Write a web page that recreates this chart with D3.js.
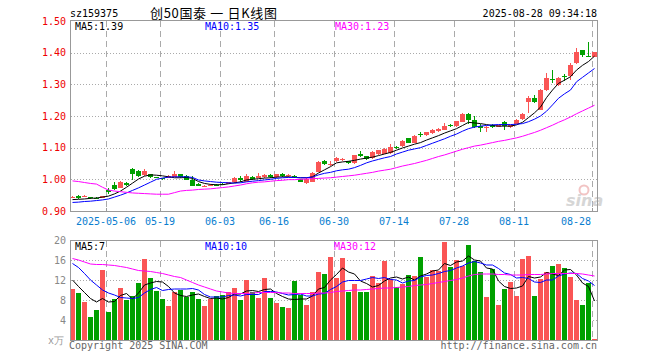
<!DOCTYPE html>
<html><head><meta charset="utf-8">
<script src="https://cdn.jsdelivr.net/npm/d3@7"></script>
<style>
html,body{margin:0;padding:0;background:#fff;}
svg text{font-family:"DejaVu Sans Mono",monospace;}
</style></head>
<body><svg id="c" width="660" height="360"></svg>
<script>
const dates = ["04-23","04-24","04-25","04-28","04-29","04-30","05-06","05-07","05-08","05-09","05-12","05-13","05-14","05-15","05-16","05-19","05-20","05-21","05-22","05-23","05-26","05-27","05-28","05-29","05-30","06-03","06-04","06-05","06-06","06-09","06-10","06-11","06-12","06-13","06-16","06-17","06-18","06-19","06-20","06-23","06-24","06-25","06-26","06-27","06-30","07-01","07-02","07-03","07-04","07-07","07-08","07-09","07-10","07-11","07-14","07-15","07-16","07-17","07-18","07-21","07-22","07-23","07-24","07-25","07-28","07-29","07-30","07-31","08-01","08-04","08-05","08-06","08-07","08-08","08-11","08-12","08-13","08-14","08-15","08-18","08-19","08-20","08-21","08-22","08-25","08-26","08-27","08-28"];
const open  = [0.943,0.946,0.946,0.943,0.941,0.941,0.966,0.982,0.973,0.990,1.034,1.025,1.014,1.016,1.006,1.004,1.004,1.007,1.016,1.009,0.997,0.985,0.979,0.981,0.983,0.986,0.985,0.991,1.005,0.993,1.008,1.005,1.006,1.014,1.006,1.017,1.009,1.011,1.000,0.988,0.993,1.024,1.058,1.049,1.057,1.062,1.057,1.052,1.080,1.073,1.067,1.079,1.081,1.082,1.101,1.105,1.129,1.116,1.143,1.140,1.146,1.153,1.157,1.171,1.167,1.181,1.206,1.188,1.170,1.165,1.171,1.166,1.181,1.166,1.176,1.190,1.243,1.258,1.220,1.282,1.317,1.297,1.326,1.325,1.366,1.407,1.391,1.386];
const close = [0.945,0.941,0.947,0.941,0.939,0.946,0.959,0.970,0.993,0.982,1.017,1.011,1.026,1.007,1.005,1.000,1.011,1.017,1.006,0.999,0.980,0.980,0.980,0.982,0.981,0.984,0.991,1.005,0.999,1.011,1.001,1.011,1.015,1.007,1.016,1.009,1.015,1.005,0.993,1.002,1.020,1.055,1.048,1.050,1.068,1.063,1.051,1.077,1.074,1.064,1.086,1.093,1.096,1.103,1.100,1.121,1.116,1.137,1.141,1.148,1.157,1.160,1.170,1.169,1.183,1.206,1.186,1.165,1.162,1.166,1.166,1.171,1.168,1.171,1.188,1.207,1.258,1.245,1.282,1.320,1.315,1.320,1.324,1.362,1.401,1.393,1.389,1.401];
const high  = [0.948,0.951,0.950,0.945,0.943,0.947,0.972,0.991,0.995,0.991,1.035,1.029,1.034,1.018,1.008,1.005,1.014,1.026,1.017,1.015,1.011,0.987,0.982,0.984,0.985,0.988,0.993,1.007,1.011,1.016,1.011,1.020,1.017,1.016,1.018,1.019,1.017,1.013,1.002,1.003,1.022,1.057,1.061,1.058,1.070,1.066,1.059,1.078,1.088,1.075,1.088,1.094,1.098,1.111,1.104,1.124,1.132,1.139,1.148,1.150,1.160,1.162,1.178,1.174,1.185,1.208,1.208,1.199,1.176,1.168,1.176,1.173,1.183,1.173,1.190,1.209,1.263,1.266,1.284,1.336,1.345,1.322,1.332,1.366,1.415,1.409,1.435,1.402];
const low   = [0.940,0.937,0.944,0.939,0.937,0.940,0.954,0.965,0.972,0.980,0.999,1.008,1.011,1.005,1.003,0.998,1.003,1.006,1.004,0.998,0.978,0.978,0.977,0.979,0.979,0.982,0.984,0.989,0.993,0.991,0.998,1.004,1.004,1.004,1.005,1.008,1.008,1.003,0.991,0.984,0.991,1.023,1.046,1.043,1.055,1.059,1.049,1.050,1.070,1.062,1.064,1.077,1.080,1.080,1.097,1.103,1.114,1.114,1.133,1.138,1.144,1.150,1.155,1.166,1.165,1.180,1.176,1.163,1.150,1.150,1.161,1.164,1.157,1.163,1.174,1.188,1.210,1.240,1.218,1.280,1.305,1.295,1.310,1.314,1.364,1.385,1.385,1.385];
const ma5  = [0.936,0.937,0.938,0.940,0.941,0.944,0.947,0.954,0.963,0.975,0.988,1.001,1.010,1.014,1.013,1.011,1.008,1.005,1.005,1.006,1.003,0.993,0.987,0.984,0.983,0.983,0.986,0.989,0.992,0.998,1.000,1.002,1.004,1.005,1.007,1.008,1.008,1.006,1.005,1.005,1.008,1.020,1.030,1.040,1.052,1.055,1.057,1.060,1.064,1.067,1.070,1.075,1.080,1.085,1.092,1.099,1.105,1.111,1.116,1.124,1.131,1.138,1.146,1.153,1.160,1.170,1.180,1.178,1.176,1.173,1.170,1.168,1.168,1.168,1.172,1.180,1.195,1.210,1.228,1.258,1.282,1.303,1.313,1.324,1.345,1.360,1.372,1.389];
const ma10 = [0.927,0.928,0.930,0.931,0.933,0.935,0.938,0.944,0.950,0.957,0.965,0.973,0.982,0.991,1.000,1.004,1.007,1.008,1.008,1.008,1.006,0.998,0.995,0.993,0.991,0.990,0.989,0.988,0.989,0.992,0.994,0.996,0.998,1.000,1.003,1.005,1.006,1.006,1.005,1.005,1.007,1.014,1.019,1.022,1.027,1.030,1.032,1.037,1.044,1.052,1.058,1.063,1.068,1.072,1.080,1.086,1.092,1.096,1.100,1.107,1.114,1.121,1.128,1.136,1.143,1.152,1.160,1.165,1.168,1.170,1.172,1.173,1.173,1.173,1.174,1.176,1.182,1.190,1.200,1.215,1.235,1.256,1.270,1.282,1.308,1.322,1.336,1.350];
const ma30 = [0.995,0.993,0.990,0.987,0.985,0.975,0.966,0.963,0.961,0.959,0.957,0.956,0.955,0.954,0.953,0.953,0.953,0.958,0.963,0.965,0.966,0.968,0.969,0.970,0.972,0.974,0.976,0.979,0.982,0.986,0.989,0.991,0.992,0.994,0.996,0.997,0.999,0.999,1.000,1.001,1.002,1.003,1.004,1.005,1.007,1.009,1.011,1.013,1.016,1.019,1.022,1.026,1.029,1.032,1.037,1.042,1.046,1.050,1.055,1.060,1.066,1.072,1.077,1.083,1.089,1.095,1.100,1.105,1.108,1.112,1.116,1.120,1.123,1.127,1.131,1.136,1.142,1.148,1.155,1.163,1.171,1.180,1.188,1.197,1.207,1.216,1.225,1.234];
const volume = [10.2,9.4,7.7,4.6,6.0,14.0,5.6,8.3,10.4,8.0,8.8,11.5,16.2,12.4,9.8,8.2,6.8,9.6,10.0,8.7,9.7,8.2,6.8,8.3,8.8,9.0,9.6,10.4,8.0,12.1,9.6,8.5,12.4,8.4,7.4,6.6,6.4,11.8,9.0,7.0,9.6,13.6,13.2,16.6,12.4,16.4,9.6,11.2,9.6,9.6,12.8,11.4,15.8,12.2,10.6,11.2,13.0,12.8,16.6,12.6,14.0,13.8,19.6,14.6,16.0,14.8,19.0,15.8,13.6,8.6,14.2,7.0,10.2,11.6,8.8,16.2,16.8,8.8,12.2,13.6,14.8,15.2,14.4,12.6,8.0,7.0,11.4,0.2];
const vma5  = [12.0,10.7,9.5,8.3,7.6,8.3,7.6,7.7,8.9,9.3,8.2,9.4,11.0,11.4,11.7,11.6,10.7,9.4,8.9,8.7,9.0,9.2,8.7,8.3,8.4,8.2,8.5,9.2,9.2,9.8,9.9,9.7,10.1,10.2,9.3,8.7,8.2,8.1,8.2,8.2,8.8,10.2,10.5,12.0,13.1,14.4,13.6,13.2,11.8,11.3,10.6,10.9,11.8,12.4,12.6,12.2,12.6,12.0,12.8,13.2,13.8,14.0,15.3,14.9,15.6,15.8,16.8,16.0,15.8,14.4,14.2,11.8,10.7,10.3,10.4,10.8,12.7,12.4,12.6,13.5,13.2,12.9,14.0,14.1,13.0,11.4,10.7,7.8];
const vma10 = [15.3,14.5,13.3,12.0,11.0,10.0,9.4,9.0,8.5,8.4,8.3,8.5,9.4,10.1,10.5,9.9,10.1,10.2,10.2,10.2,10.3,10.0,9.1,8.6,8.6,8.6,8.9,9.0,8.8,9.1,9.1,9.1,9.7,9.7,9.6,9.3,9.0,9.1,9.2,8.8,8.8,9.2,9.3,10.1,10.7,11.6,11.9,11.9,11.9,12.2,12.5,12.3,12.5,12.1,12.0,11.4,11.8,11.9,12.6,12.9,13.0,13.3,13.7,13.9,14.4,14.8,15.4,15.7,15.4,15.0,15.0,14.3,13.4,13.1,12.4,12.5,12.3,11.6,11.5,12.0,12.0,12.8,13.2,13.4,13.3,12.3,11.8,10.9];
const vma30 = [16.3,16.0,15.6,15.2,15.1,15.1,15.0,14.9,14.7,14.5,14.2,13.9,13.8,13.7,13.5,13.3,13.0,12.7,12.5,12.0,11.5,11.0,10.6,10.2,9.8,9.6,9.4,9.3,9.3,9.3,9.4,9.5,9.5,9.5,9.5,9.4,9.4,9.3,9.3,9.3,9.3,9.4,9.4,9.5,9.7,9.8,9.9,10.0,10.0,10.1,10.2,10.3,10.4,10.4,10.5,10.6,10.7,10.9,11.0,11.1,11.3,11.5,11.7,11.9,12.1,12.4,12.8,13.1,13.2,13.2,13.2,13.1,13.1,13.0,13.0,13.0,13.1,13.1,13.1,13.2,13.3,13.3,13.3,13.3,13.3,13.2,13.0,12.8];
const priceTicks = [0.90,1.00,1.10,1.20,1.30,1.40,1.50];
const volTicks = [4,8,12,16,20];
const tickDates = ["05-06","05-19","06-03","06-16","06-30","07-14","07-28","08-11","08-28"];
const tickLabels = ["2025-05-06","05-19","06-03","06-16","06-30","07-14","07-28","08-11","08-28"];
const titleText = "创50国泰 一 日K线图";

const RED="#fa5555", GREEN="#00a000";
const svg = d3.select("#c");
const n = dates.length;
const x = d3.scaleLinear().domain([0, n]).range([70, 70 + 6*n]);
const y = d3.scaleLinear().domain([0.9, 1.5]).range([211, 21]);
const yv = d3.scaleLinear().domain([0, 20]).range([340, 240]);
const cx = i => x(i) + 2.5;
const up = i => close[i] >= open[i];

// header
svg.append("text").attr("x",70).attr("y",17).attr("font-size",10).attr("fill","#000").text("sz159375");
svg.append("text").attr("x",150).attr("y",18).attr("textLength",127).attr("lengthAdjust","spacing")
  .style("font-family","'Noto Sans CJK SC',sans-serif").style("white-space","pre")
  .attr("font-size",13).attr("fill","#000").text(titleText);
svg.append("text").attr("x",597).attr("y",17).attr("text-anchor","end").attr("font-size",10).attr("fill","#000").text("2025-08-28 09:34:18");

// grids
const gMain = svg.append("g").attr("shape-rendering","crispEdges");
priceTicks.filter(v=>v>0.95 && v<1.45).forEach(v=>{
  gMain.append("line").attr("x1",71).attr("x2",597).attr("y1",Math.round(y(v))+0.5).attr("y2",Math.round(y(v))+0.5)
    .attr("stroke","#aaa").attr("stroke-dasharray","1,2");
});
volTicks.filter(v=>v<20).forEach(v=>{
  gMain.append("line").attr("x1",71).attr("x2",597).attr("y1",yv(v)+0.5).attr("y2",yv(v)+0.5)
    .attr("stroke","#aaa").attr("stroke-dasharray","1,2");
});
tickDates.forEach(d=>{
  const xi = Math.round(x(dates.indexOf(d))) + 0.5;
  gMain.append("line").attr("x1",xi).attr("x2",xi).attr("y1",21).attr("y2",211).attr("stroke","#aaa").attr("stroke-dasharray","6,4");
  gMain.append("line").attr("x1",xi).attr("x2",xi).attr("y1",241).attr("y2",340).attr("stroke","#aaa").attr("stroke-dasharray","6,4");
  gMain.append("line").attr("x1",xi).attr("x2",xi).attr("y1",208).attr("y2",211).attr("stroke","#999");
});

// sina watermark
svg.append("circle").attr("cx",584).attr("cy",190).attr("r",4.5).attr("fill","none").attr("stroke","#f2c4c4").attr("stroke-width",2);
svg.append("text").attr("x",566).attr("y",206).attr("font-size",16).attr("font-style","italic").attr("font-weight","bold")
  .style("font-family","Verdana,'DejaVu Sans',sans-serif").attr("fill","#d6d6d6").text("sina");

// candles
const gC = svg.append("g").attr("shape-rendering","crispEdges");
d3.range(n).forEach(i=>{
  const col = up(i) ? RED : GREEN;
  gC.append("rect").attr("x",Math.round(x(i))+2).attr("width",1)
    .attr("y",Math.round(y(high[i]))).attr("height",Math.max(1,Math.round(y(low[i]))-Math.round(y(high[i]))))
    .attr("fill",col);
  const t = Math.round(y(Math.max(open[i],close[i]))), b = Math.round(y(Math.min(open[i],close[i])));
  gC.append("rect").attr("x",Math.round(x(i))).attr("width",5).attr("y",t).attr("height",Math.max(1,b-t)).attr("fill",col);
});

// MA lines price
const lineP = arr => d3.line().x((d,i)=>cx(i)).y(d=>y(d))(arr);
[[ma5,"#000"],[ma10,"#0000ff"],[ma30,"#ff00ff"]].forEach(([a,c])=>{
  svg.append("path").attr("d",lineP(a)).attr("fill","none").attr("stroke",c).attr("stroke-width",1);
});

// volume bars
const gV = svg.append("g").attr("shape-rendering","crispEdges");
d3.range(n).forEach(i=>{
  const t = Math.round(yv(volume[i]));
  gV.append("rect").attr("x",Math.round(x(i))).attr("width",5).attr("y",t).attr("height",Math.max(1,340-t))
    .attr("fill", up(i)?RED:GREEN);
});
const lineV = arr => d3.line().x((d,i)=>cx(i)).y(d=>yv(d))(arr);
[[vma5,"#000"],[vma10,"#0000ff"],[vma30,"#ff00ff"]].forEach(([a,c])=>{
  svg.append("path").attr("d",lineV(a)).attr("fill","none").attr("stroke",c).attr("stroke-width",1);
});

// frames
svg.append("rect").attr("x",70.5).attr("y",20.5).attr("width",527).attr("height",190.5).attr("fill","none").attr("stroke","#999").attr("shape-rendering","crispEdges");
svg.append("rect").attr("x",70.5).attr("y",240.5).attr("width",527).attr("height",100).attr("fill","none").attr("stroke","#999").attr("shape-rendering","crispEdges");

// MA labels
const last = a => a[a.length-1];
svg.append("text").attr("x",75).attr("y",30).attr("font-size",10).attr("fill","#000").text("MA5:"+last(ma5).toFixed(2));
svg.append("text").attr("x",205).attr("y",30).attr("font-size",10).attr("fill","#0000ff").text("MA10:"+last(ma10).toFixed(2));
svg.append("text").attr("x",335).attr("y",30).attr("font-size",10).attr("fill","#ff00ff").text("MA30:"+last(ma30).toFixed(2));
svg.append("text").attr("x",75).attr("y",250).attr("font-size",10).attr("fill","#000").text("MA5:"+Math.floor(last(vma5)));
svg.append("text").attr("x",205).attr("y",250).attr("font-size",10).attr("fill","#0000ff").text("MA10:"+Math.floor(last(vma10)));
svg.append("text").attr("x",334).attr("y",250).attr("font-size",10).attr("fill","#ff00ff").text("MA30:"+Math.floor(last(vma30)));

// axis labels
priceTicks.forEach(v=>{
  svg.append("text").attr("x",66).attr("y",y(v)+3.5).attr("text-anchor","end").attr("font-size",10).attr("fill","#e00").text(v.toFixed(2));
});
volTicks.forEach(v=>{
  svg.append("text").attr("x",66).attr("y",yv(v)+3.5).attr("text-anchor","end").attr("font-size",10).attr("fill","#888").text(v);
});
svg.append("text").attr("x",64).attr("y",344).attr("text-anchor","end").attr("font-size",10).attr("fill","#999").text("x万");
tickDates.forEach((d,k)=>{
  const xi = x(dates.indexOf(d));
  const lastT = k===tickDates.length-1;
  svg.append("text").attr("x", lastT ? xi-1 : xi).attr("y",225).attr("text-anchor", lastT?"end":"middle")
    .attr("font-size",10).attr("fill","#0a7ecf").text(tickLabels[k]);
});
svg.append("text").attr("x",69).attr("y",349).attr("font-size",10).attr("fill","#666").text("Copyright 2025 SINA.COM");
svg.append("text").attr("x",597).attr("y",349).attr("text-anchor","end").attr("font-size",10).attr("fill","#666").text("http://finance.sina.com.cn");
</script></body></html>
